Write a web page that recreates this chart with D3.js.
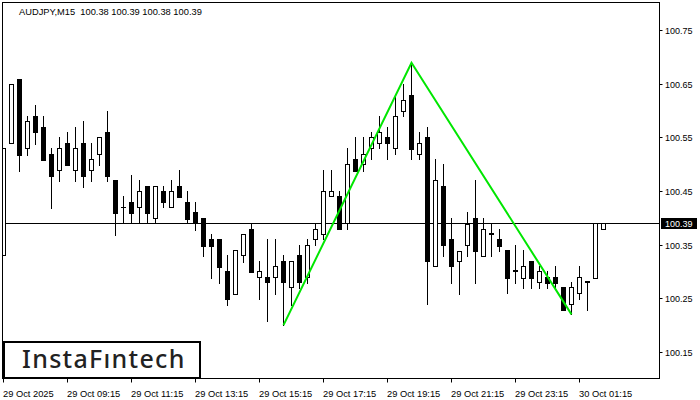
<!DOCTYPE html>
<html><head><meta charset="utf-8">
<script src="https://cdn.jsdelivr.net/npm/d3@7"></script>
<style>html,body{margin:0;padding:0;background:#fff;}svg{display:block;}</style>
</head><body>
<svg id="chart" width="700" height="400"></svg>
<script>
const title = "AUDJPY,M15  100.38 100.39 100.38 100.39";
const openP  = [100.331,100.540,100.659,100.530,100.590,100.569,100.519,100.489,100.540,100.489,100.540,100.489,100.519,100.560,100.471,100.421,100.430,100.420,100.460,100.400,100.450,100.420,100.460,100.430,100.411,100.400,100.361,100.361,100.301,100.258,100.331,100.379,100.290,100.290,100.290,100.320,100.271,100.331,100.290,100.361,100.370,100.441,100.441,100.391,100.510,100.500,100.530,100.540,100.550,100.530,100.599,100.629,100.519,100.550,100.311,100.460,100.361,100.320,100.350,100.400,100.329,100.371,100.361,100.340,100.302,100.288,100.320,100.281,100.290,100.290,100.271,100.240,100.260,100.282,100.288,100.380];
const highP  = [100.530,100.649,100.659,100.590,100.610,100.590,100.530,100.551,100.560,100.569,100.581,100.540,100.551,100.599,100.471,100.441,100.480,100.471,100.460,100.460,100.460,100.471,100.489,100.450,100.430,100.400,100.370,100.361,100.331,100.340,100.370,100.391,100.320,100.361,100.361,100.331,100.320,100.350,100.361,100.391,100.489,100.489,100.450,100.530,100.550,100.550,100.560,100.590,100.569,100.625,100.649,100.690,100.560,100.569,100.510,100.500,100.400,100.338,100.411,100.471,100.400,100.391,100.379,100.340,100.350,100.340,100.320,100.311,100.301,100.311,100.271,100.281,100.311,100.282,100.391,100.390];
const lowP   = [100.331,100.540,100.487,100.517,100.538,100.508,100.419,100.469,100.499,100.469,100.458,100.469,100.499,100.469,100.368,100.391,100.391,100.391,100.391,100.391,100.420,100.420,100.439,100.391,100.378,100.329,100.288,100.279,100.238,100.258,100.318,100.299,100.249,100.208,100.258,100.201,100.238,100.270,100.279,100.350,100.361,100.441,100.379,100.379,100.487,100.487,100.510,100.530,100.510,100.519,100.590,100.510,100.510,100.240,100.311,100.329,100.279,100.258,100.329,100.279,100.329,100.329,100.338,100.260,100.279,100.270,100.270,100.270,100.270,100.270,100.229,100.221,100.249,100.229,100.288,100.380];
const closeP = [100.530,100.649,100.517,100.581,100.560,100.508,100.478,100.530,100.499,100.530,100.478,100.510,100.551,100.478,100.409,100.420,100.409,100.450,100.409,100.460,100.430,100.450,100.439,100.398,100.391,100.348,100.348,100.309,100.249,100.340,100.370,100.299,100.301,100.281,100.311,100.281,100.320,100.281,100.350,100.379,100.450,100.450,100.379,100.500,100.487,100.519,100.550,100.560,100.540,100.590,100.620,100.528,100.540,100.320,100.471,100.350,100.311,100.338,100.389,100.338,100.379,100.370,100.348,100.288,100.301,100.311,100.288,100.301,100.279,100.279,100.229,100.271,100.290,100.281,100.391,100.390];
const priceTicks = [100.15,100.25,100.35,100.45,100.55,100.65,100.75];
const currentPrice = 100.39;
const timeTickIdx = [0,8,16,24,32,40,48,56,64,72];
const timeTickLabels = ["29 Oct 2025","29 Oct 09:15","29 Oct 11:15","29 Oct 13:15","29 Oct 15:15","29 Oct 17:15","29 Oct 19:15","29 Oct 21:15","29 Oct 23:15","30 Oct 01:15"];
const patternIdx = [35,51,71];
const patternPrice = [100.201,100.690,100.221];
const logoText = "InstaFıntech";

const svg = d3.select("#chart");
const L = 2.5, R = 659.5, T = 2.5, B = 378.5;
const x = d3.scaleLinear().domain([0,75]).range([3.5,603.5]);
const y = d3.scaleLinear().domain([100.15,100.75]).range([352.5,30.5]);
const py = v => Math.round(y(v) - 0.5) + 0.5;

const font = "'Liberation Sans', Arial, sans-serif";

svg.append("defs").append("clipPath").attr("id","clip")
  .append("rect").attr("x",3).attr("y",3).attr("width",R-3).attr("height",B-3);

// current price line
svg.append("line").attr("x1",L).attr("x2",R).attr("y1",py(currentPrice)).attr("y2",py(currentPrice))
  .attr("stroke","#000").attr("stroke-width",1);

const data = openP.map((o,i)=>({i,o,h:highP[i],l:lowP[i],c:closeP[i]}));
const g = svg.append("g").attr("clip-path","url(#clip)");
const cg = g.selectAll("g.c").data(data).join("g");
cg.append("line")
  .attr("x1",d=>x(d.i)).attr("x2",d=>x(d.i))
  .attr("y1",d=>py(d.h)-0.5).attr("y2",d=>py(d.l)+0.5)
  .attr("stroke","#000").attr("stroke-width",1);
cg.each(function(d){
  const s = d3.select(this);
  const top = py(Math.max(d.o,d.c)), bot = py(Math.min(d.o,d.c));
  if (d.c > d.o + 0.0005) {
    s.append("rect").attr("x",x(d.i)-2).attr("y",top).attr("width",4).attr("height",Math.max(0,bot-top))
      .attr("fill","#fff").attr("stroke","#000").attr("stroke-width",1);
  } else if (d.o > d.c + 0.0005) {
    s.append("rect").attr("x",x(d.i)-2.5).attr("y",top-0.5).attr("width",5).attr("height",Math.max(1,bot-top+1))
      .attr("fill","#000");
  } else {
    s.append("line").attr("x1",x(d.i)-2.5).attr("x2",x(d.i)+2.5).attr("y1",top).attr("y2",top)
      .attr("stroke","#000").attr("stroke-width",1);
  }
});

// pattern lines
const pts = patternIdx.map((k,j)=>[x(k), y(patternPrice[j])]);
svg.append("path").attr("d", d3.line()(pts)).attr("fill","none")
  .attr("stroke","#00e600").attr("stroke-width",2).attr("stroke-linejoin","miter");

// frame
svg.append("rect").attr("x",L).attr("y",T).attr("width",R-L).attr("height",B-T)
  .attr("fill","none").attr("stroke","#000").attr("stroke-width",1);

// price axis
const pa = svg.append("g");
priceTicks.forEach(v=>{
  pa.append("line").attr("x1",R).attr("x2",R+3).attr("y1",py(v)).attr("y2",py(v)).attr("stroke","#000");
  pa.append("text").attr("x",665).attr("y",py(v)+3.5).attr("font-family",font).attr("font-size","9px")
    .attr("fill","#000").text(d3.format(".2f")(v));
});
pa.append("rect").attr("x",661).attr("y",py(currentPrice)-5.5).attr("width",36).attr("height",11).attr("fill","#000");
pa.append("text").attr("x",665).attr("y",py(currentPrice)+3.5).attr("font-family",font).attr("font-size","9px")
  .attr("fill","#fff").text(d3.format(".2f")(currentPrice));

// time axis
const ta = svg.append("g");
timeTickIdx.forEach((k,j)=>{
  ta.append("line").attr("x1",x(k)).attr("x2",x(k)).attr("y1",B).attr("y2",B+4).attr("stroke","#000");
  ta.append("text").attr("x",x(k)-0.5).attr("y",397).attr("font-family",font).attr("font-size","9.3px")
    .attr("fill","#000").text(timeTickLabels[j]);
});

// title
svg.append("text").attr("x",19).attr("y",14.5).attr("font-family",font).attr("font-size","9.3px")
  .attr("fill","#000").attr("xml:space","preserve").style("white-space","pre").text(title);

// logo
svg.append("rect").attr("x",4).attr("y",342).attr("width",196).attr("height",36)
  .attr("fill","#fff").attr("stroke","#000").attr("stroke-width",2);
svg.append("text").attr("x",22).attr("y",368).attr("font-family","'Noto Sans', sans-serif")
  .attr("font-size","25px").attr("font-weight",500).attr("letter-spacing","1.3px")
  .attr("fill","#222").text(logoText);
</script>
</body></html>
